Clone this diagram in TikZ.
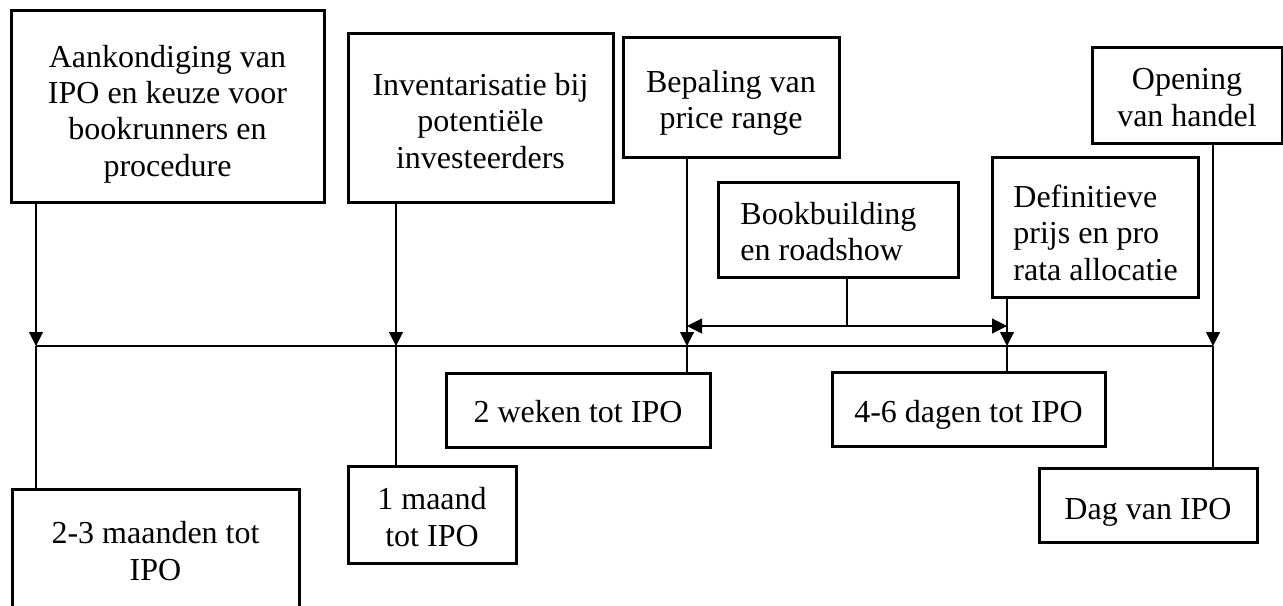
\documentclass[tikz,border=0pt]{standalone}
\usepackage{fontspec}
\setmainfont{Liberation Serif}
\usetikzlibrary{arrows.meta}
\begin{document}
\begin{tikzpicture}[x=0.5pt,y=-0.5pt,
  box/.style={draw, line width=1.5pt, inner sep=0pt},
  txt/.style={inner sep=0pt, align=center, font=\fontsize{16}{18.2}\selectfont},
  ltxt/.style={txt, align=left, anchor=west},
  conn/.style={line width=0.55pt},
  tip/.style={-{Triangle[width=7pt,length=7pt]}},
  dtip/.style={{Triangle[width=7.5pt,length=7.5pt]}-{Triangle[width=7.5pt,length=7.5pt]}},
]
\useasboundingbox (0,0) rectangle (1283,605);
\clip (0,0) rectangle (1283,605);
% upper boxes
\node[box, minimum width=156.5pt, minimum height=96pt] (b1) at (167.5,106) {};
\node[txt, yshift=-4pt] (b1t) at (b1) {Aankondiging van\\IPO en keuze voor\\bookrunners en\\procedure};
\node[box, minimum width=132.5pt, minimum height=84.5pt] (b2) at (480.5,117.5) {};
\node[txt, yshift=-1.75pt] (b2t) at (b2) {Inventarisatie bij\\potentiële\\investeerders};
\node[box, minimum width=108pt, minimum height=60pt] (b3) at (731,97) {};
\node[txt, yshift=-3pt] (b3t) at (b3) {Bepaling van\\price range};
\node[box, minimum width=120pt, minimum height=47.5pt] (bk) at (838,229.5) {};
\node[ltxt] (bkt) at (740,231.5) {Bookbuilding\\en roadshow};
\node[box, minimum width=103pt, minimum height=70pt] (b4) at (1095,227) {};
\node[ltxt] (b4t) at (1013,232.5) {Definitieve\\prijs en pro\\rata allocatie};
\node[box, minimum width=95pt, minimum height=48pt] (b5) at (1187,95) {};
\node[txt, yshift=-1.25pt] (b5t) at (b5) {Opening\\van handel};
% lower boxes
\node[box, minimum width=143.5pt, minimum height=63pt] (l1) at (155.5,552) {};
\node[txt, yshift=0.5pt] (l1t) at (l1) {2-3 maanden tot\\IPO};
\node[box, minimum width=84pt, minimum height=48.5pt] (l2) at (432,514.5) {};
\node[txt, yshift=-1.25pt] (l2t) at (l2) {1 maand\\tot IPO};
\node[box, minimum width=132pt, minimum height=37pt] (l3) at (578,410) {};
\node[txt, yshift=-1pt] (l3t) at (l3) {2 weken tot IPO};
\node[box, minimum width=136.5pt, minimum height=37pt] (l4) at (968.5,409) {};
\node[txt, yshift=-3pt] (l4t) at (l4) {4-6 dagen tot IPO};
\node[box, minimum width=109pt, minimum height=37pt] (l5) at (1148,505) {};
\node[txt, yshift=-3.5pt] (l5t) at (l5) {Dag van IPO};
% timeline points
\coordinate (t1) at (36,346);
\coordinate (t2) at (396,346);
\coordinate (t3) at (687,346);
\coordinate (t4) at (1007,346);
\coordinate (t5) at (1213,346);
\coordinate (a3) at (687,326);
\coordinate (a4) at (1007,326);
\coordinate (bm) at (847,326);
% timeline
\draw[conn] (t1) -- (t5);
% arrows from upper boxes
\draw[conn,tip] (b1.south -| t1) -- (t1);
\draw[conn,tip] (b2.south -| t2) -- (t2);
\draw[conn,tip] (b3.south -| t3) -- (t3);
\draw[conn,tip] (b4.south -| t4) -- (t4);
\draw[conn,tip] (b5.south -| t5) -- (t5);
% bookbuilding span
\draw[conn,dtip] (a3) -- (a4);
\draw[conn] (bk.south -| bm) -- (bm);
% lines to lower boxes
\draw[conn] (t1) -- (l1.north -| t1);
\draw[conn] (t2) -- (l2.north -| t2);
\draw[conn] (t3) -- (l3.north -| t3);
\draw[conn] (t4) -- (l4.north -| t4);
\draw[conn] (t5) -- (l5.north -| t5);
\end{tikzpicture}
\end{document}
